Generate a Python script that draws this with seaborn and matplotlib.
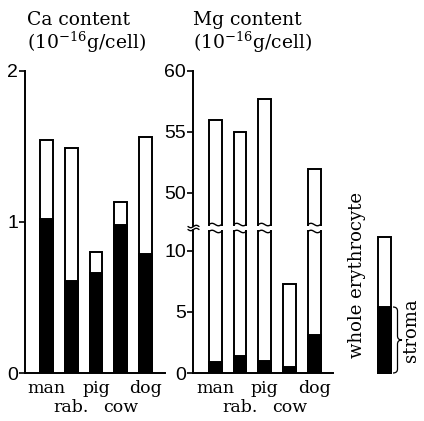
import numpy as np
import seaborn as sns
import matplotlib.pyplot as plt
from matplotlib.path import Path
from matplotlib.patches import PathPatch, Rectangle

# values (10^-16 g/cell)
animals = ["man", "rab.", "pig", "cow", "dog"]
ca_whole = [1.54, 1.49, 0.80, 1.13, 1.56]
ca_stroma = [1.02, 0.61, 0.66, 0.98, 0.79]
mg_whole = [56.0, 55.0, 57.7, 7.3, 52.0]
mg_stroma = [0.9, 1.4, 1.0, 0.5, 3.1]

W, H = 424, 421
BAR_W = 0.52
LW = 1.4

sns.set_style("white")
plt.rcParams["font.family"] = ["DejaVu Serif"]
plt.rcParams["mathtext.fontset"] = "dejavuserif"
for k in ["text.color", "axes.labelcolor", "xtick.color", "ytick.color", "axes.edgecolor"]:
    plt.rcParams[k] = "black"

fig = plt.figure(figsize=(W / 100, H / 100), dpi=100)


def px_axes(left, top, right, bottom):
    return fig.add_axes([left / W, 1 - bottom / H, (right - left) / W, (bottom - top) / H])


def bars(ax, whole, stroma=None):
    sns.barplot(x=animals, y=whole, color="white", edgecolor="black",
                linewidth=LW, width=BAR_W, saturation=1, errorbar=None, ax=ax)
    if stroma is not None:
        sns.barplot(x=animals, y=stroma, color="black", edgecolor="black",
                    linewidth=LW, width=BAR_W, saturation=1, errorbar=None, ax=ax)


def style(ax, ylim, yticks, bottom=True):
    ax.set_ylim(*ylim)
    ax.set_yticks(yticks)
    ax.set_yticklabels([str(t) for t in yticks], family="Liberation Sans", fontsize=14)
    ax.tick_params(axis="y", direction="out", length=4, width=1.2, pad=1, left=True)
    ax.set_xlabel("")
    ax.set_ylabel("")
    for s in ["top", "right"]:
        ax.spines[s].set_visible(False)
    ax.spines["left"].set_linewidth(LW)
    ax.spines["bottom"].set_linewidth(LW)
    ax.set_facecolor("none")
    if bottom:
        # staggered labels: man / pig / dog on the first row, rab. / cow below
        pos = range(len(animals))
        ax.set_xticks([p for p in pos if p % 2 == 0])
        ax.set_xticklabels([a for p, a in zip(pos, animals) if p % 2 == 0], fontsize=12.5)
        ax.set_xticks([p for p in pos if p % 2 == 1], minor=True)
        ax.set_xticklabels([a for p, a in zip(pos, animals) if p % 2 == 1], minor=True,
                           fontsize=12.5)
        ax.tick_params(axis="x", which="major", length=0, pad=5)
        ax.tick_params(axis="x", which="minor", length=0, pad=19, bottom=True)
    else:
        ax.spines["bottom"].set_visible(False)
        ax.set_xticks([])


# Ca panel
ax_ca = px_axes(25, 70.7, 165, 373)
bars(ax_ca, ca_whole, ca_stroma)
style(ax_ca, (0, 2), [0, 1, 2])
ax_ca.set_xlim(-0.87, 4.79)

# Mg panel, broken axis
ax_hi = px_axes(193, 70.7, 333, 226)
ax_lo = px_axes(193, 230, 333, 373)
bars(ax_hi, mg_whole)
bars(ax_lo, mg_whole, mg_stroma)
style(ax_hi, (47.3, 60), [50, 55, 60], bottom=False)
style(ax_lo, (0, 11.7), [0, 5, 10])
for a in (ax_hi, ax_lo):
    a.set_xlim(-0.9, 4.76)

# wavy break lines on the bars that cross the break
for i, v in enumerate(mg_whole):
    if v > ax_lo.get_ylim()[1]:
        xs = np.linspace(i - BAR_W / 2, i + BAR_W / 2, 30)
        wave = np.sin((xs - xs[0]) / BAR_W * 2 * np.pi)
        ax_lo.plot(xs, ax_lo.get_ylim()[1] - 0.12 + 0.1 * wave, color="black",
                   lw=1.0, clip_on=False)
        ax_hi.plot(xs, ax_hi.get_ylim()[0] + 0.12 + 0.1 * wave, color="black",
                   lw=1.0, clip_on=False)

# break mark on the y axis
for yy in (226.5, 229.5):
    xs = np.linspace(188, 199, 30)
    ys = yy + 1.2 * np.sin((xs - 188) / 11 * 2 * np.pi)
    fig.add_artist(plt.Line2D(xs / W, 1 - ys / H, color="black", lw=1.0))

# titles
fig.text(27 / W, 1 - 11 / H, "Ca content\n(10$^{-16}$g/cell)", fontsize=13.5,
         va="top", ha="left", linespacing=1.05)
fig.text(193 / W, 1 - 11 / H, "Mg content\n(10$^{-16}$g/cell)", fontsize=13.5,
         va="top", ha="left", linespacing=1.05)

# legend key
ax_lg = px_axes(340, 150, 424, 395)
ax_lg.set_xlim(340, 424)
ax_lg.set_ylim(395, 150)
ax_lg.axis("off")
ax_lg.add_patch(Rectangle((378, 237), 13, 136, facecolor="white", edgecolor="black", lw=LW))
ax_lg.add_patch(Rectangle((378, 307), 13, 66, facecolor="black", edgecolor="black", lw=LW))
verts = [(393, 307), (397.5, 307), (397.5, 311), (397.5, 336), (397.5, 340), (402, 340),
         (397.5, 340), (397.5, 344), (397.5, 369), (397.5, 373), (393, 373)]
codes = [Path.MOVETO, Path.CURVE3, Path.CURVE3, Path.LINETO, Path.CURVE3, Path.CURVE3,
         Path.CURVE3, Path.CURVE3, Path.LINETO, Path.CURVE3, Path.CURVE3]
ax_lg.add_patch(PathPatch(Path(verts, codes), facecolor="none", edgecolor="black", lw=0.9))
ax_lg.text(357, 275, "whole erythrocyte", rotation=90, ha="center", va="center", fontsize=13)
ax_lg.text(411, 330, "stroma", rotation=90, ha="center", va="center", fontsize=13)

fig.savefig("out.png", dpi=100)
